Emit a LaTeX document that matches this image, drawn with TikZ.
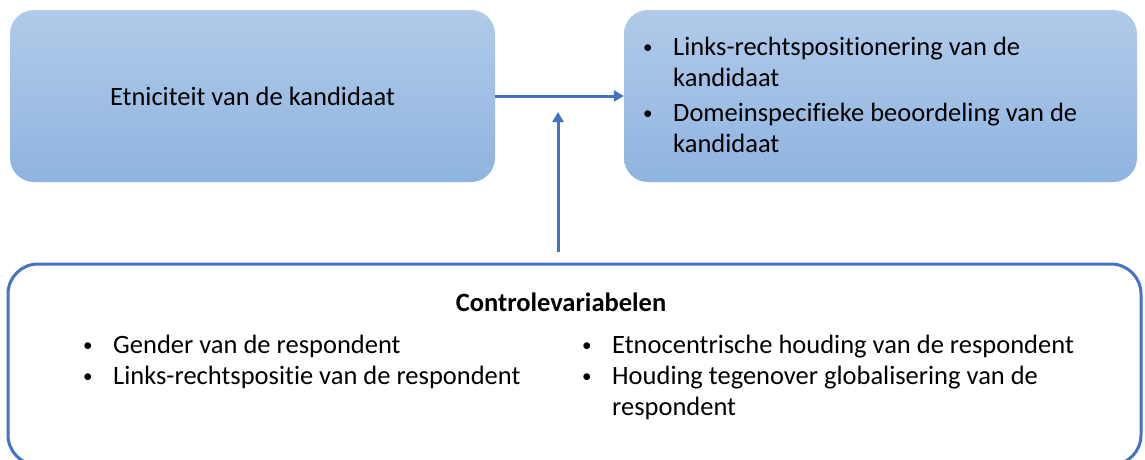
\documentclass[tikz,border=0pt]{standalone}
\usepackage{fontspec}
\setmainfont{Carlito}[Ligatures=NoCommon]
\usetikzlibrary{arrows.meta}
\definecolor{accent}{RGB}{68,114,196}
\definecolor{gtop}{RGB}{177,202,233}
\definecolor{gbot}{RGB}{143,180,224}
\newcommand{\bl}{\makebox[31pt][l]{\hspace{1pt}\raisebox{1.5pt}{\fontsize{19}{19}\selectfont\textbullet}}}
\begin{document}
\begin{tikzpicture}[x=1pt,y=-1pt,
  bluebox/.style={rounded corners=24pt, top color=gtop, bottom color=gbot, draw=none,
    minimum height=172pt, inner sep=0pt, font=\fontsize{26.5}{31}\selectfont},
  ctrlbox/.style={rounded corners=30pt, draw=accent, line width=3pt, fill=white,
    minimum width=1133pt, minimum height=201pt, inner sep=0pt},
  conn/.style={draw=accent, line width=3pt, -{Triangle[length=10pt,width=11pt]}},
  txt/.style={font=\fontsize{26.5}{31}\selectfont, inner sep=0pt, anchor=base west}]
\path[use as bounding box, clip] (0,0) rectangle (1145,459);
\fill[white] (0,0) rectangle (1145,459);

\node[bluebox, minimum width=485pt] (box1) at (252.5,96) {Etniciteit van de kandidaat};
\node[bluebox, minimum width=513pt] (box2) at (880.5,96) {};
\node[ctrlbox] (ctrl) at (574.5,364.5) {};

\node[txt] (out) at (642,55) {\begin{tabular}[t]{@{}l@{}}
\bl Links-rechtspositionering van de\\
\hspace*{31pt}kandidaat\\[4pt]
\bl Domeinspecifieke beoordeling van de\\
\hspace*{31pt}kandidaat
\end{tabular}};

\node[font=\fontsize{26.5}{31}\selectfont\bfseries, inner sep=0pt, anchor=base] (hdr) at (561,311) {Controlevariabelen};

\node[txt] (left) at (82,353) {\begin{tabular}[t]{@{}l@{}}
\bl Gender van de respondent\\
\bl Links-rechtspositie van de respondent
\end{tabular}};

\node[txt] (right) at (581,353) {\begin{tabular}[t]{@{}l@{}}
\bl Etnocentrische houding van de respondent\\
\bl Houding tegenover globalisering van de\\
\hspace*{31pt}respondent
\end{tabular}};

\draw[conn] (box1.east) -- (box2.west);
\coordinate (tip) at (558,112);
\draw[conn, shorten <=11pt] (ctrl.north -| tip) -- (tip);
\end{tikzpicture}
\end{document}
